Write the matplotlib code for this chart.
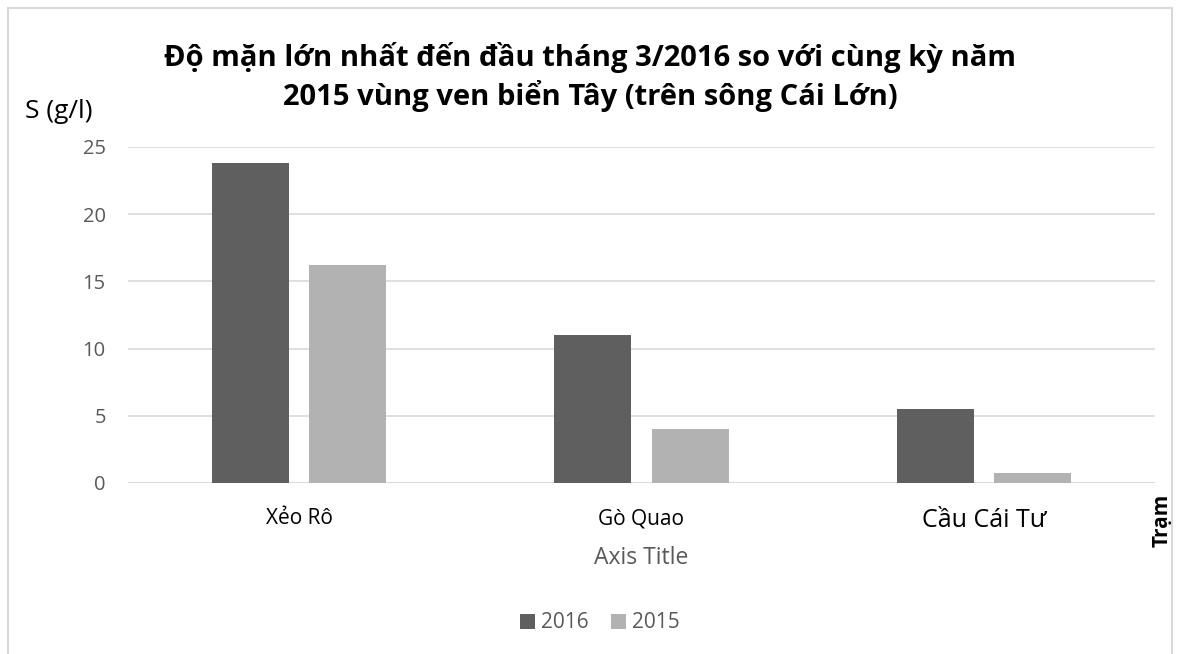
import numpy as np
import matplotlib.pyplot as plt
from matplotlib.patches import Rectangle

plt.rcParams['font.family'] = ['Open Sans', 'DejaVu Sans']

# data
stations = ["Xẻo Rô", "Gò Quao", "Cầu Cái Tư"]
s2016 = [23.8, 11.0, 5.5]
s2015 = [16.2, 4.0, 0.75]
yticks = [0, 5, 10, 15, 20, 25]

DARK = "#5f5f5f"
LIGHT = "#b2b2b2"
GRID = "#d9d9d9"
TICK = "#595959"

fig = plt.figure(figsize=(11.8, 6.54), dpi=100)
ax = fig.add_axes([128 / 1180, 1 - 483 / 654, 1027 / 1180, 336 / 654])

x = np.arange(len(stations))
w = 0.225
ax.bar(x - 0.142, s2016, width=w, color=DARK, label="2016", zorder=3)
ax.bar(x + 0.142, s2015, width=w, color=LIGHT, label="2015", zorder=3)

ax.set_xlim(-0.5, 2.5)
ax.set_ylim(0, 25)
ax.set_yticks(yticks)
ax.yaxis.grid(True, color=GRID, linewidth=1.2, zorder=0)
for s in ax.spines.values():
    s.set_visible(False)
ax.axhline(0, color=GRID, linewidth=1.2, zorder=2)
ax.tick_params(axis='both', length=0)
ax.tick_params(axis='y', labelsize=14.5, labelcolor=TICK, pad=16)
ax.set_xticks(x)
ax.set_xticklabels(stations, fontsize=15, color="black")
ax.get_xticklabels()[2].set_fontsize(18)
ax.tick_params(axis='x', pad=18)

ax.set_xlabel("Axis Title", fontsize=16.5, color=TICK, labelpad=9)

fig.text(0.5, 1 - 77 / 654,
         "Độ mặn lớn nhất đến đầu tháng 3/2016 so với cùng kỳ năm\n"
         "2015 vùng ven biển Tây (trên sông Cái Lớn)",
         ha="center", va="center", fontsize=21, fontweight="bold",
         linespacing=1.3)
fig.text(25 / 1180, 1 - 112 / 654, "S (g/l)", fontsize=19, va="center", ha="left")
fig.text(1162 / 1180, 1 - 520 / 654, "Trạm", fontsize=15, fontweight="bold",
         rotation=90, va="center", ha="center")

fig.legend(loc="center", bbox_to_anchor=(600 / 1180, 1 - 623 / 654), ncol=2,
           frameon=False, fontsize=15, handlelength=0.7, handleheight=0.7,
           columnspacing=1.1, handletextpad=0.3, labelcolor=TICK)

fig.patches.append(Rectangle((8 / 1180, -0.1), 1164 / 1180, 1 - 8 / 654 + 0.1,
                             transform=fig.transFigure, fill=False,
                             edgecolor=GRID, linewidth=1.5))

fig.savefig("out.png", dpi=100)
